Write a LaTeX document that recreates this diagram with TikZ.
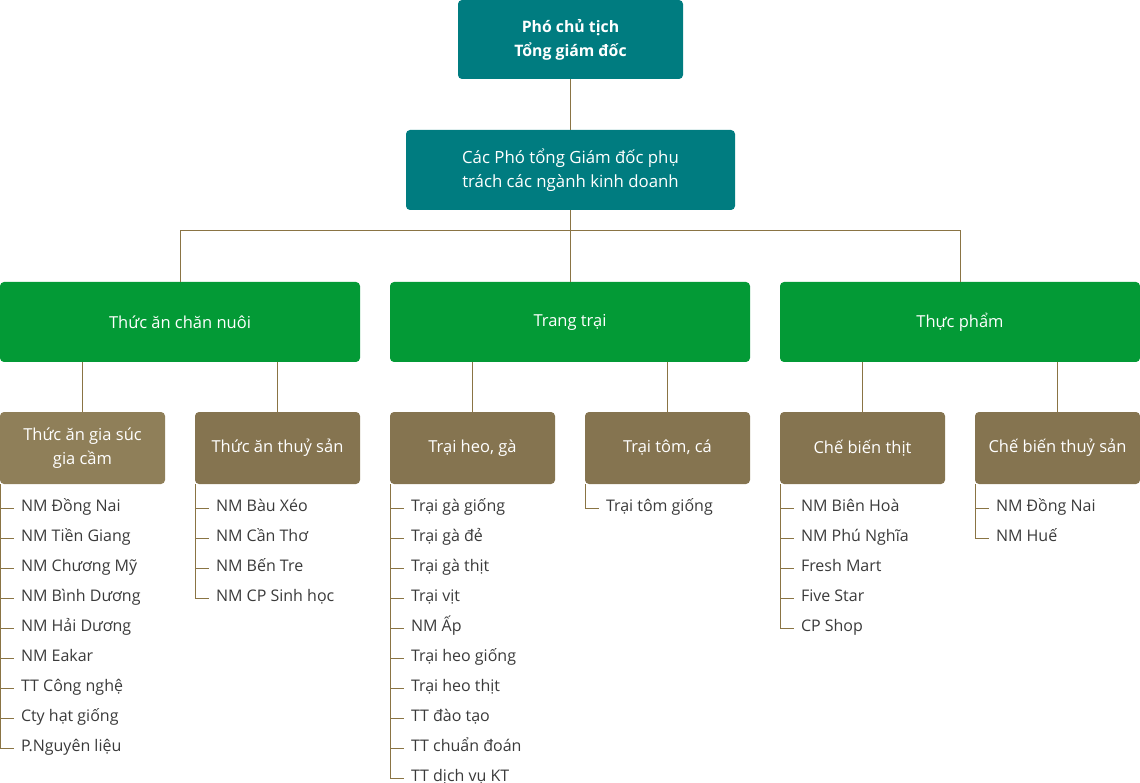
\documentclass[tikz,border=0pt]{standalone}
\usepackage{fontspec}
\setmainfont{Open Sans}
\definecolor{teal1}{HTML}{007C80}
\definecolor{green1}{HTML}{039A36}
\definecolor{brown1}{HTML}{857450}
\definecolor{brown2}{HTML}{8F7F59}
\definecolor{line1}{HTML}{8A7444}
\definecolor{text1}{HTML}{3A3A3A}
\tikzset{
  box/.style={rectangle, rounded corners=4pt, inner sep=0pt, text=white, align=center},
  topbox/.style={box, fill=teal1, font=\fontsize{15.8}{24}\selectfont\bfseries},
  secbox/.style={box, fill=teal1, font=\fontsize{16.8}{24}\selectfont},
  greenbox/.style={box, fill=green1, minimum width=360pt, minimum height=80pt, font=\fontsize{16.5}{24}\selectfont},
  brownbox/.style={box, fill=brown1, minimum width=165pt, minimum height=72pt, font=\fontsize{16.5}{24}\selectfont},
  item/.style={anchor=west, inner xsep=7pt, inner ysep=0pt, text=text1, text height=11pt, text depth=4pt, font=\fontsize{16}{18}\selectfont},
  conn/.style={draw=line1, line width=0.9pt}
}
\begin{document}
\begin{tikzpicture}[x=1pt, y=-1pt]
\useasboundingbox (0,0) rectangle (1140,783);
\node[topbox, minimum width=225pt, minimum height=79pt] (top) at (570.5,39.5) {Phó chủ tịch\\Tổng giám đốc};
\node[secbox, minimum width=329pt, minimum height=80pt] (sec) at (570.5,170) {Các Phó tổng Giám đốc phụ\\trách các ngành kinh doanh};
\node[greenbox] (g1) at (180,322) {Thức ăn chăn nuôi};
\node[greenbox] (g2) at (570,322) {Trang trại};
\node[greenbox] (g3) at (960,322) {Thực phẩm};
\node[brownbox, fill=brown2] (b1) at (82.5,448) {Thức ăn gia súc\\gia cầm};
\node[brownbox] (b2) at (277.5,448) {Thức ăn thuỷ sản};
\node[brownbox] (b3) at (472.5,448) {Trại heo, gà};
\node[brownbox] (b4) at (667.5,448) {Trại tôm, cá};
\node[brownbox] (b5) at (862.5,448) {Chế biến thịt};
\node[brownbox] (b6) at (1057.5,448) {Chế biến thuỷ sản};
\coordinate (busL) at (180,230);
\coordinate (busR) at (960,230);
\draw[conn] (top.south) -- (sec.north);
\draw[conn] (sec.south) -- (sec.south |- g2.north);
\draw[conn] (g1.north) -- (busL) -- (busR) -- (g3.north);
\draw[conn] (b1.north) -- (b1.north |- g1.south);
\draw[conn] (b2.north) -- (b2.north |- g1.south);
\draw[conn] (b3.north) -- (b3.north |- g2.south);
\draw[conn] (b4.north) -- (b4.north |- g2.south);
\draw[conn] (b5.north) -- (b5.north |- g3.south);
\draw[conn] (b6.north) -- (b6.north |- g3.south);
\foreach \b/\items in {
  b1/{NM Đồng Nai,NM Tiền Giang,NM Chương Mỹ,NM Bình Dương,NM Hải Dương,NM Eakar,TT Công nghệ,Cty hạt giống,P.Nguyên liệu},
  b2/{NM Bàu Xéo,NM Cần Thơ,NM Bến Tre,NM CP Sinh học},
  b3/{Trại gà giống,Trại gà đẻ,Trại gà thịt,Trại vịt,NM Ấp,Trại heo giống,Trại heo thịt,TT đào tạo,TT chuẩn đoán,TT dịch vụ KT},
  b4/{Trại tôm giống},
  b5/{NM Biên Hoà,NM Phú Nghĩa,Fresh Mart,Five Star,CP Shop},
  b6/{NM Đồng Nai,NM Huế}} {
  \foreach \t [count=\i] in \items {
    \path (\b.south west) ++(14,{24+30*(\i-1)}) node[item] (\b-\i) {\t};
    \draw[conn] (\b.south west) ++(1,0) |- (\b-\i.west);
  }
}
\end{tikzpicture}
\end{document}
